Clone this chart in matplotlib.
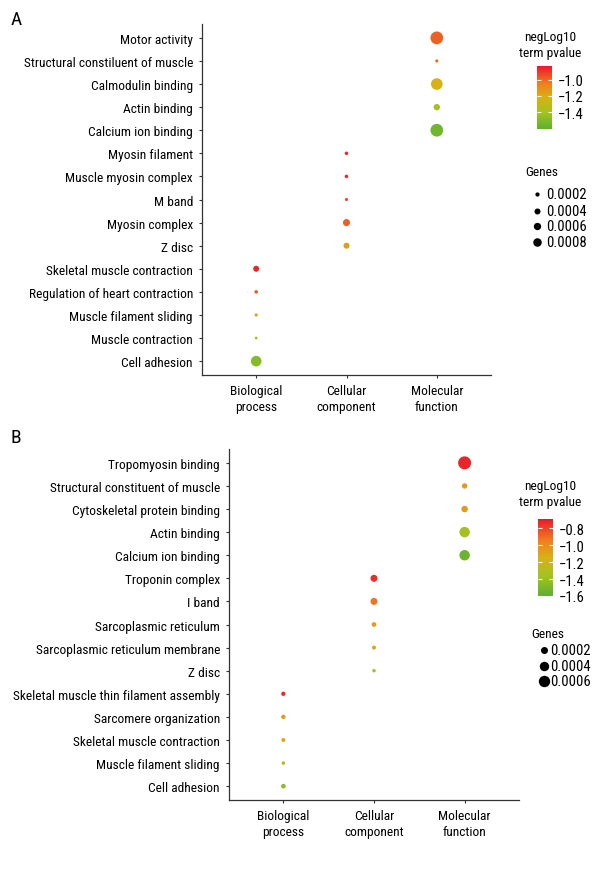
import numpy as np
import matplotlib
matplotlib.use('Agg')
import matplotlib.pyplot as plt
from matplotlib import font_manager
from matplotlib.colors import LinearSegmentedColormap, Normalize
from matplotlib.colorbar import ColorbarBase

# 数据：面板 A
categories = ['Biological\nprocess', 'Cellular\ncomponent', 'Molecular\nfunction']
terms_a = ['Motor activity', 'Structural constiluent of muscle', 'Calmodulin binding',
           'Actin binding', 'Calcium ion binding', 'Myosin filament', 'Muscle myosin complex',
           'M band', 'Myosin complex', 'Z disc', 'Skeletal muscle contraction',
           'Regulation of heart contraction', 'Muscle filament sliding', 'Muscle contraction',
           'Cell adhesion']
group_a = [2, 2, 2, 2, 2, 1, 1, 1, 1, 1, 0, 0, 0, 0, 0]
pval_a = [-0.98, -1.0, -1.22, -1.38, -1.55, -0.87, -0.87, -0.94, -0.98, -1.15,
          -0.86, -0.97, -1.15, -1.35, -1.5]
genes_a = [0.0018, 0.00011, 0.0015, 0.00045, 0.0018, 0.00014, 0.00014, 0.00011,
           0.00056, 0.0004, 0.0004, 0.00014, 0.00011, 0.00009, 0.00125]

# 数据：面板 B
terms_b = ['Tropomyosin binding', 'Structural constituent of muscle', 'Cytoskeletal protein binding',
           'Actin binding', 'Calcium ion binding', 'Troponin complex', 'I band',
           'Sarcoplasmic reticulum', 'Sarcoplasmic reticulum membrane', 'Z disc',
           'Skeletal muscle thin filament assembly', 'Sarcomere organization',
           'Skeletal muscle contraction', 'Muscle filament sliding', 'Cell adhesion']
group_b = [2, 2, 2, 2, 2, 1, 1, 1, 1, 1, 0, 0, 0, 0, 0]
pval_b = [-0.72, -1.05, -1.05, -1.35, -1.55, -0.74, -0.92, -1.05, -1.1, -1.35,
          -0.74, -1.05, -1.1, -1.3, -1.45]
genes_b = [0.0008, 0.0001, 0.000165, 0.0005, 0.0005, 0.0002, 0.0002, 0.000065,
           0.000035, 0.000016, 0.00005, 0.00005, 0.000035, 0.00002, 0.00006]

legend_a = [0.0002, 0.0004, 0.0006, 0.0008]
legend_b = [0.0002, 0.0004, 0.0006]
cbar_ticks_a = [-1.0, -1.2, -1.4]
cbar_ticks_b = [-0.8, -1.0, -1.2, -1.4, -1.6]

# 找一个窄字体，没有的话就缩小字号
names = {f.name for f in font_manager.fontManager.ttflist}
narrow = [n for n in ['Liberation Sans Narrow', 'DejaVu Sans Condensed', 'Roboto Condensed',
                      'Open Sans Condensed', 'Noto Sans Condensed'] if n in names]
if narrow:
    plt.rcParams['font.family'] = [narrow[0], 'DejaVu Sans']
    fs = 9.6
else:
    plt.rcParams['font.family'] = ['Roboto', 'DejaVu Sans']
    fs = 7.8

cmap = LinearSegmentedColormap.from_list(
    'gr', [(0, '#5db031'), (0.25, '#a0c322'), (0.5, '#d8b115'), (0.72, '#f07f1d'), (1, '#e8192c')])

W, H = 615, 870
fig = plt.figure(figsize=(W / 100, H / 100), dpi=100)


def size_a(v):
    return 0.5184 * 90000 * np.asarray(v)


def size_b(v):
    return 0.5184 * (9 + 200000 * np.asarray(v))


def panel(rect, terms, group, pval, genes, norm, sfun):
    ax = fig.add_axes(rect)
    n = len(terms)
    ax.scatter(group, np.arange(n), s=sfun(genes), c=pval, cmap=cmap, norm=norm,
               linewidths=0, zorder=3)
    ax.set_xlim(-0.6, 2.6)
    ax.set_ylim(n - 0.4, -0.6)
    ax.set_yticks(np.arange(n))
    ax.set_yticklabels(terms, fontsize=fs)
    ax.set_xticks(range(3))
    ax.set_xticklabels(categories, fontsize=fs, linespacing=1.3)
    for s in ['top', 'right']:
        ax.spines[s].set_visible(False)
    for s in ['left', 'bottom']:
        ax.spines[s].set_color('#333333')
        ax.spines[s].set_linewidth(0.9)
    ax.tick_params(color='#333333', length=2.5, width=0.8, pad=4, labelcolor='black')
    return ax


def px_rect(x0, y0, x1, y1):
    return [x0 / W, 1 - y1 / H, (x1 - x0) / W, (y1 - y0) / H]


norm_a = Normalize(-1.61, -0.83)
norm_b = Normalize(-1.6, -0.69)
panel(px_rect(202, 25, 491, 376), terms_a, group_a, pval_a, genes_a, norm_a, size_a)
panel(px_rect(229, 450, 519, 801), terms_b, group_b, pval_b, genes_b, norm_b, size_b)


def cbar(rect, norm, ticks):
    cax = fig.add_axes(rect)
    cb = ColorbarBase(cax, cmap=cmap, norm=norm, orientation='vertical')
    cb.outline.set_visible(False)
    cb.set_ticks(ticks)
    cb.set_ticklabels([f'\u2212{abs(t):.1f}' for t in ticks])
    cax.yaxis.set_ticks_position('both')
    cax.tick_params(direction='in', color='white', length=3, width=0.8,
                    labelsize=fs + 1, labelleft=False, labelright=True, pad=4)


cbar(px_rect(537, 67, 552, 130), norm_a, cbar_ticks_a)
cbar(px_rect(538, 520, 553, 597), norm_b, cbar_ticks_b)

# 图例与标注，像素坐标
lax = fig.add_axes([0, 0, 1, 1])
lax.set_xlim(0, W)
lax.set_ylim(H, 0)
lax.axis('off')
lax.text(16, 20, 'A', fontsize=14, ha='center', va='center')
lax.text(16, 438, 'B', fontsize=14, ha='center', va='center')
lax.text(550, 45.5, 'negLog10\nterm pvalue', fontsize=fs, ha='center', va='center', linespacing=1.3)
lax.text(550, 495, 'negLog10\nterm pvalue', fontsize=fs, ha='center', va='center', linespacing=1.3)
lax.text(542, 172, 'Genes', fontsize=fs, ha='center', va='center')
lax.text(548, 635, 'Genes', fontsize=fs, ha='center', va='center')

ys_a = [195, 212, 227, 243]
for v, y in zip(legend_a, ys_a):
    lax.scatter([537], [y], s=size_a(v), color='black', linewidths=0)
    lax.text(546, y, f'{v:.4f}', fontsize=fs + 1, va='center', ha='left')
ys_b = [651, 667, 682]
for v, y in zip(legend_b, ys_b):
    lax.scatter([544], [y], s=size_b(v), color='black', linewidths=0)
    lax.text(550, y, f'{v:.4f}', fontsize=fs + 1, va='center', ha='left')

fig.savefig('out.png', dpi=100)
